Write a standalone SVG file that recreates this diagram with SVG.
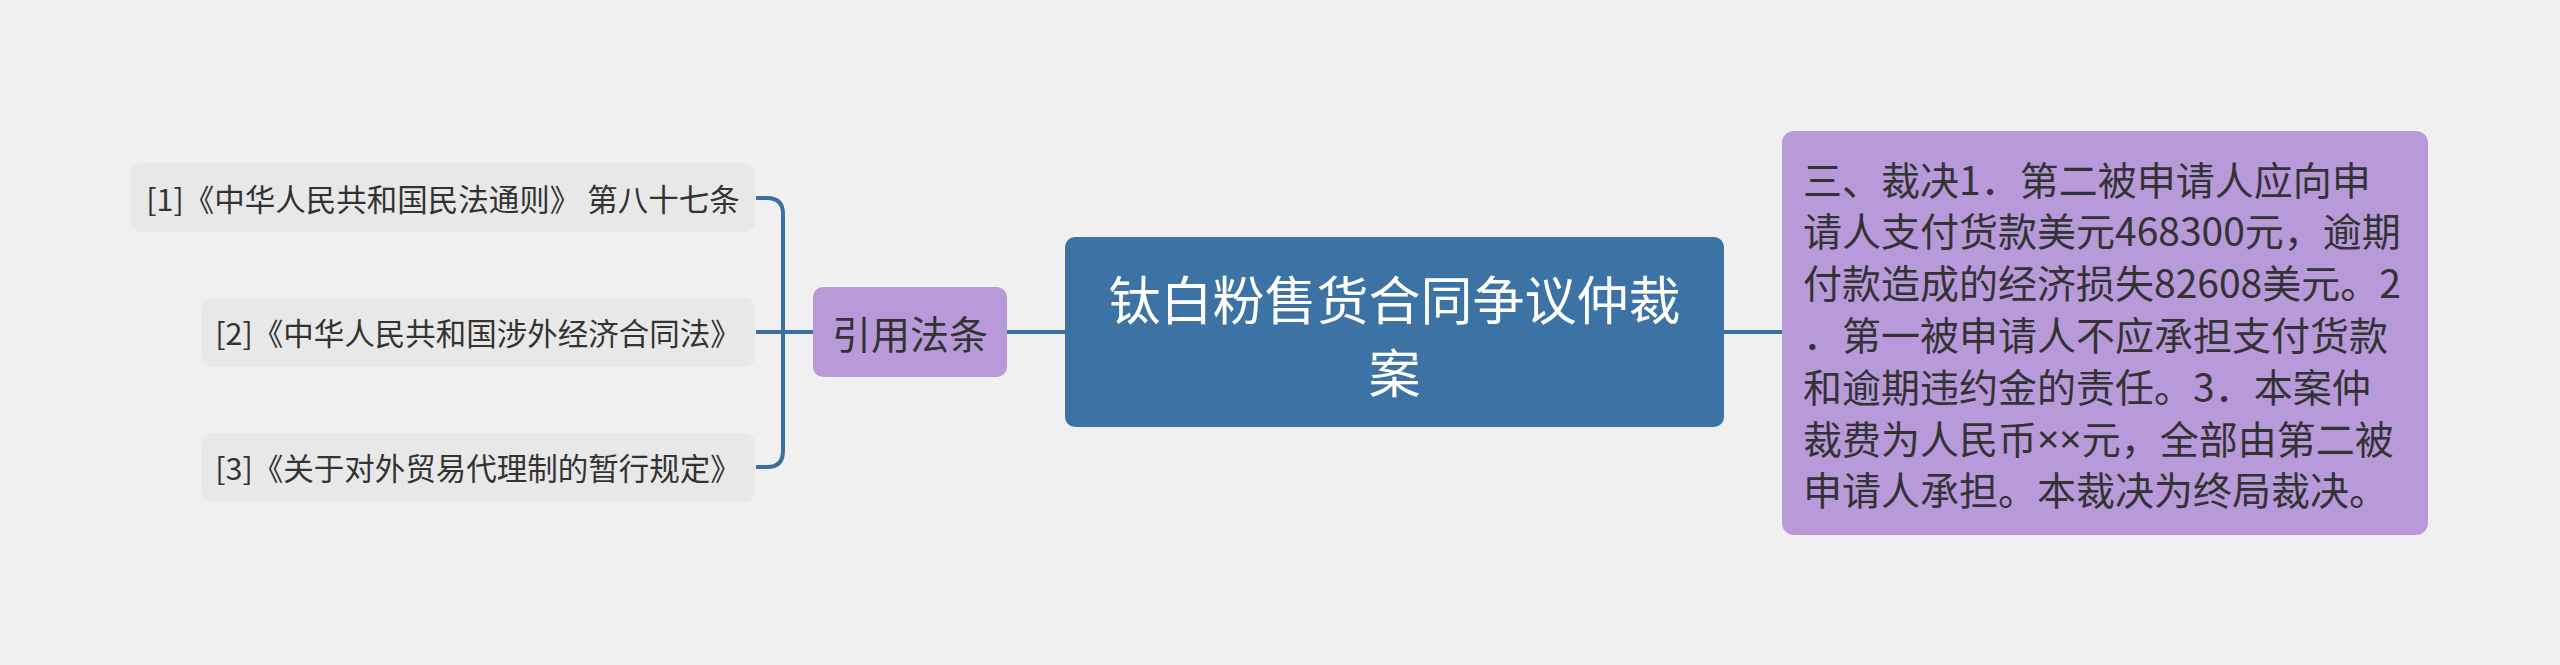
<svg xmlns="http://www.w3.org/2000/svg" width="2560" height="665" viewBox="0 0 2560 665">
<style>
.t{font-family:"Noto Sans CJK SC","Noto Sans",sans-serif;dominant-baseline:central}
.lat{font-family:"Noto Sans","Noto Sans CJK SC",sans-serif}
.leaf rect{fill:#e8e8e8}
.leaf text{font-size:30.5px;fill:#333;text-anchor:middle}
.sub rect{fill:#b899d9}
.conn{fill:none;stroke:#3b6fa1;stroke-width:4}
</style>
<rect width="2560" height="665" fill="#f0f0f0"/>
<g id="connectors" class="conn">
<path d="M1065 332H1007"/>
<path d="M1724 332H1782"/>
<path d="M813 332H783"/>
<path d="M756 198H767Q783 198 783 214V451Q783 467 767 467H756"/>
<path d="M756 332H783"/>
</g>
<g id="root">
<rect x="1065" y="237" width="659" height="190" rx="10" fill="#3c72a4"/>
<text class="t" font-size="52" fill="#ffffff" text-anchor="middle"><tspan x="1394.5" y="297">钛白粉售货合同争议仲裁</tspan><tspan x="1394.5" y="370">案</tspan></text>
</g>
<g id="n-laws" class="sub">
<rect x="813" y="287" width="194" height="90" rx="10"/>
<text class="t" x="910" y="332" font-size="39" fill="#333" text-anchor="middle">引用法条</text>
</g>
<g id="n-verdict" class="sub">
<rect x="1782" y="131" width="646" height="404" rx="12"/>
<text class="t" font-size="39" fill="#333">
<tspan x="1803" y="177.6">三、裁决1．第二被申请人应向申</tspan>
<tspan x="1803" y="229.4">请人支付货款美元468300元，逾期</tspan>
<tspan x="1803" y="281.2">付款造成的经济损失82608美元。2</tspan>
<tspan x="1803" y="333">．第一被申请人不应承担支付货款</tspan>
<tspan x="1803" y="384.8">和逾期违约金的责任。3．本案仲</tspan>
<tspan x="1803" y="436.6">裁费为人民币<tspan class="lat">××</tspan>元，全部由第二被</tspan>
<tspan x="1803" y="488.4">申请人承担。本裁决为终局裁决。</tspan>
</text>
</g>
<g id="leaf1" class="leaf">
<rect x="131" y="163" width="624" height="69" rx="10"/>
<text class="t" x="443" y="198">[1]《中华人民共和国民法通则》 第八十七条</text>
</g>
<g id="leaf2" class="leaf">
<rect x="201" y="298" width="554" height="69" rx="10"/>
<text class="t" x="478" y="332">[2]《中华人民共和国涉外经济合同法》</text>
</g>
<g id="leaf3" class="leaf">
<rect x="201" y="433" width="554" height="69" rx="10"/>
<text class="t" x="478" y="467">[3]《关于对外贸易代理制的暂行规定》</text>
</g>
</svg>
